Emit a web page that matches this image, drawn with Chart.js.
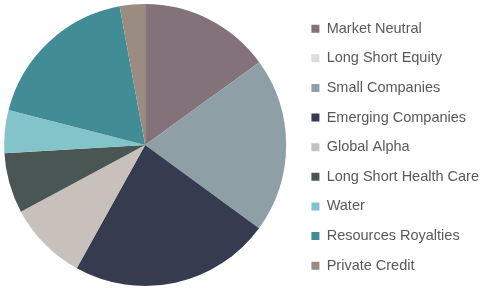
<!DOCTYPE html>
<html>
<head>
<meta charset="utf-8">
<script src="https://cdn.jsdelivr.net/npm/chart.js@4"></script>
<style>
    body { margin: 0; background: #fff; }
    .wrap { width: 485px; height: 288px; }
</style>
</head>
<body>
<div class="wrap"><canvas id="fund-pie"></canvas></div>
<script>
const funds = [
    "Market Neutral",
    "Long Short Equity",
    "Small Companies",
    "Emerging Companies",
    "Global Alpha",
    "Long Short Health Care",
    "Water",
    "Resources Royalties",
    "Private Credit"
];
const weights = [15.0, 0, 20.0, 23.0, 9.1, 6.9, 4.9, 18.1, 2.9];
const fundColors = [
    "#837279", "#dedcdc", "#8f9fa6", "#363c50", "#c7c0bb",
    "#4a5654", "#83c3ca", "#428c95", "#9b8c82"
];

// nudge the pie a little left of the chart area centre
const shiftPie = {
    id: "shiftPie",
    beforeDatasetsDraw: (chart) => {
        chart.ctx.save();
        chart.ctx.translate(-3, 0);
    },
    afterDatasetsDraw: (chart) => {
        chart.ctx.restore();
    }
};

// font 14.5 + padding 15.125 keeps the legend row maths exact (no float wrap)
const fundChart = new Chart(
    document.getElementById("fund-pie"), {
        type: "pie",
        data: {
            labels: funds,
            datasets: [{
                data: weights,
                backgroundColor: fundColors,
                borderWidth: 0,
            }]
        },
        options: {
            animation: false,
            responsive: true,
            maintainAspectRatio: false,
            radius: 141,
            layout: {
                padding: { left: 0, right: -4, top: 2, bottom: 0 }
            },
            plugins: {
                tooltip: { enabled: false },
                legend: {
                    position: "right",
                    align: "end",
                    labels: {
                        boxWidth: 8,
                        boxHeight: 8,
                        padding: 15.125,
                        color: "#595959",
                        font: { family: "'Liberation Sans', Arial, sans-serif", size: 14.5 }
                    }
                }
            }
        },
        plugins: [shiftPie]
    }
);
</script>
</body>
</html>
